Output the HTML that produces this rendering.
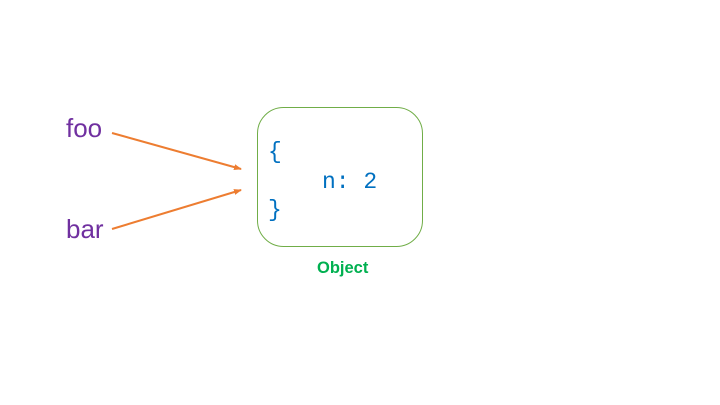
<!DOCTYPE html>
<html><head><meta charset="utf-8"><style>
html,body{margin:0;padding:0;background:#fff;}
svg{display:block;}
</style></head><body>
<svg width="720" height="405" viewBox="0 0 720 405" xmlns="http://www.w3.org/2000/svg">
<defs>
<marker id="ah" markerWidth="8" markerHeight="8" refX="7" refY="4" orient="auto" markerUnits="userSpaceOnUse">
<path d="M0,1 L8,4 L0,7 Z" fill="#ed7d31"/>
</marker>
</defs>
<rect x="257.5" y="107.5" width="165" height="139" rx="26" ry="26" fill="none" stroke="#70ad47" stroke-width="1"/>
<text x="66" y="137" font-family="Liberation Sans, sans-serif" font-size="26" fill="#7030a0">foo</text>
<text x="66" y="238" font-family="Liberation Sans, sans-serif" font-size="26" fill="#7030a0">bar</text>
<line x1="112" y1="133" x2="241" y2="169" stroke="#ed7d31" stroke-width="2" marker-end="url(#ah)"/>
<line x1="112" y1="229" x2="241" y2="190" stroke="#ed7d31" stroke-width="2" marker-end="url(#ah)"/>
<g font-family="Liberation Mono, monospace" font-size="23" fill="#0070c0">
<text x="268" y="158">{</text>
<text x="322" y="188">n: 2</text>
<text x="268" y="216">}</text>
</g>
<text x="317" y="273" font-family="Liberation Sans, sans-serif" font-size="16.5" font-weight="bold" fill="#00b050">Object</text>
</svg>
</body></html>
